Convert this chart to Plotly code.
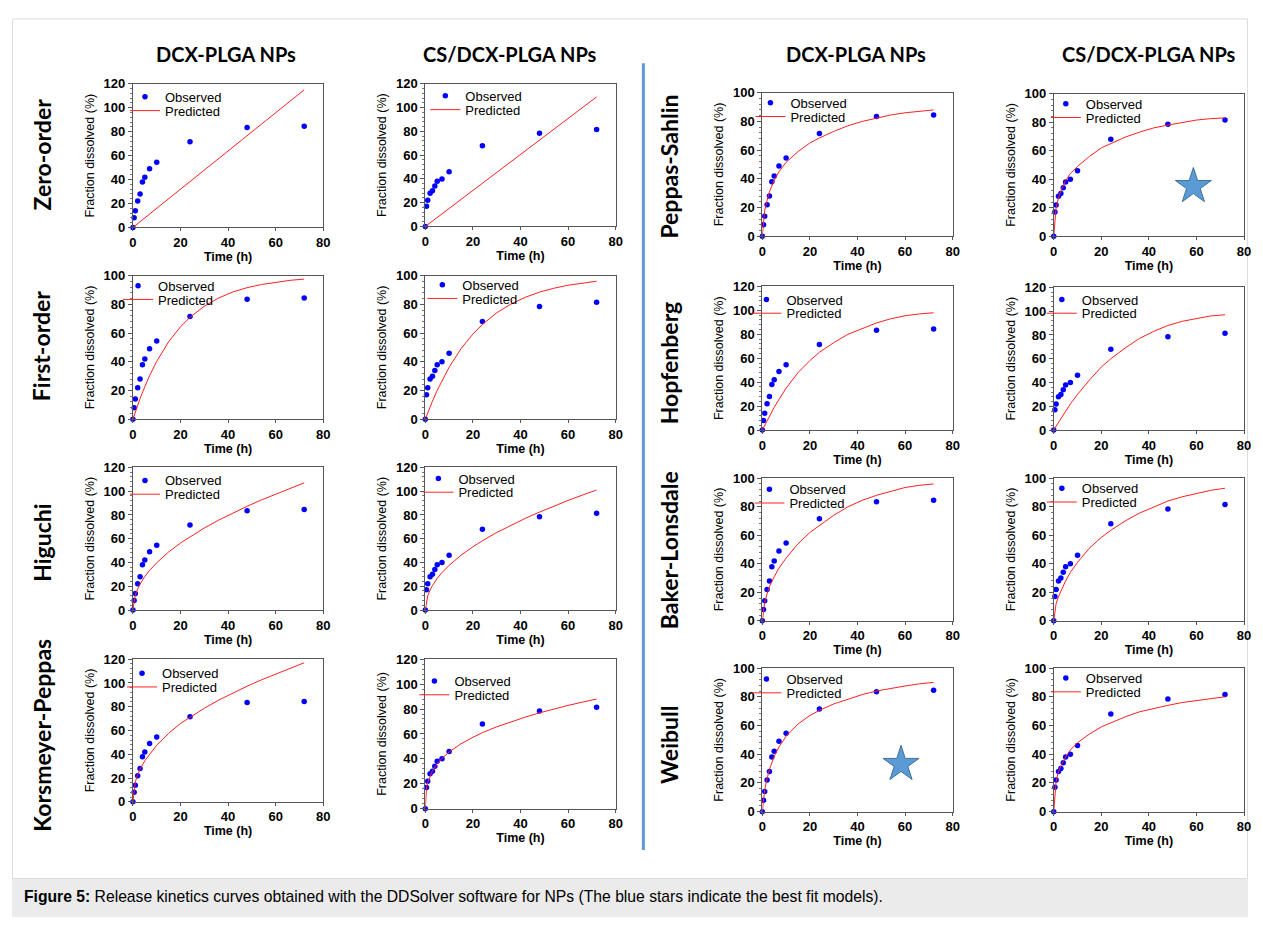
import plotly.graph_objects as go

# ---------------- data ----------------
t_obs = [0, 0.5, 1, 2, 3, 4, 5, 7, 10, 24, 48, 72]
obs_dcx = [0, 8, 14, 22, 28, 38, 42, 49, 54.5, 71.5, 83.5, 84.5]
obs_cs = [0, 17, 22, 28, 30, 34, 38, 40, 46, 68, 78.5, 81.5]

t_lin = [0, 24, 48, 72]
zero_dcx = [0, 38.3, 76.7, 115]
zero_cs = [0, 36.3, 72.7, 109]

t_fit = [0, 0.5, 1, 2, 3, 5, 7, 10, 15, 20, 24, 30, 36, 42, 48, 54, 60, 66, 72]
first_dcx = [0, 2.5, 5, 9.8, 14.4, 22.7, 30.3, 40.3, 53.9, 64.4, 71, 78.7, 84.4, 88.6, 91.6, 93.8, 95.5, 96.7, 97.6]
first_cs = [0, 2.2, 4.4, 8.6, 12.6, 20.1, 27, 36.2, 49.1, 59.3, 66, 74.1, 80.2, 84.9, 88.5, 91.2, 93.3, 94.9, 96.1]
higuchi_dcx = [0, 8.9, 12.6, 17.8, 21.8, 28.2, 33.3, 39.8, 48.8, 56.4, 61.7, 69, 75.6, 81.7, 87.3, 92.6, 97.6, 102.4, 107]
higuchi_cs = [0, 8.4, 11.9, 16.8, 20.6, 26.6, 31.5, 37.6, 46.1, 53.2, 58.3, 65.2, 71.4, 77.1, 82.4, 87.4, 92.2, 96.7, 101]
kp_dcx = [0, 12.2, 16.7, 22.9, 27.5, 34.6, 40.1, 47.6, 57.6, 65.9, 71, 78.7, 85.5, 91.7, 97.3, 102.6, 107.6, 112.3, 117]
kp_cs = [0, 16.8, 21.1, 26.6, 30.4, 36.1, 40.3, 45.5, 52.1, 57.3, 61, 65.7, 69.8, 73.5, 76.9, 80, 82.9, 85.5, 88]
ps_dcx = [0, 12, 18, 25, 31, 39, 45, 51.5, 59, 65, 68.5, 73, 77, 80, 82.5, 84.5, 86, 87, 88]
ps_cs = [0, 14, 20, 27, 32, 39, 44, 49, 56, 62, 65, 69.5, 73, 76, 78, 80, 81.5, 82.5, 83]
hop_dcx = [0, 2, 4, 8, 11.5, 19, 25.5, 35, 48, 58, 65, 73, 80, 85, 89.5, 93, 95.5, 97, 98]
hop_cs = [0, 1.6, 3.2, 6.5, 9.5, 16, 22, 30, 42, 53, 60, 69, 77, 83, 88, 91.5, 94, 96, 97]
bl_dcx = [0, 9, 13, 19, 24, 31, 37, 44, 54, 62, 67, 74, 80, 84.5, 88, 91, 93.5, 95, 96]
bl_cs = [0, 8.5, 12, 17, 21, 28, 34, 41, 51, 58.5, 63.5, 70, 75.5, 80, 84, 87, 89.5, 91.5, 93]
wb_dcx = [0, 9, 15, 23, 29.5, 38.5, 45, 52.5, 61, 67, 70.5, 75, 78.5, 81.5, 84, 86, 87.5, 89, 90]
wb_cs = [0, 15, 21, 28, 32, 38, 43, 48, 54, 59, 62, 66, 69.5, 72, 74, 76, 77.5, 79, 80]

col_titles = ["DCX-PLGA NPs", "CS/DCX-PLGA NPs", "DCX-PLGA NPs", "CS/DCX-PLGA NPs"]
left_models = ["Zero-order", "First-order", "Higuchi", "Korsmeyer-Peppas"]
right_models = ["Peppas-Sahlin", "Hopfenberg", "Baker-Lonsdale", "Weibull"]
caption_bold = "Figure 5:"
caption_text = " Release kinetics curves obtained with the DDSolver software for NPs (The blue stars indicate the best fit models)."

# best-fit star markers (panel index, x, y)
star_panels = [9, 14]
star_x = [58.7, 58.3]
star_y = [35, 33]

# ---------------- layout helpers ----------------
# page is 1263x925; browser body keeps its default 8px margin
OFF = 8
W, H = 1263 - 2 * OFF, 925 - 2 * OFF
def px(x):
    return (x - OFF) / W
def py(y):
    return 1 - (y - OFF) / H
def xd(a, b):
    return [px(a), px(b)]
def yd(top, bot):
    return [py(bot), py(top)]

# panels: (fit_t, fit_y, obs_y, ymax, x0, x1, ytop, ybot, legend text pos)
panels = [
    (t_lin, zero_dcx, obs_dcx, 120, 130, 322, 78, 224, (163, 91)),
    (t_lin, zero_cs, obs_cs, 120, 425, 617, 78, 223, (466, 90)),
    (t_fit, first_dcx, obs_dcx, 100, 130, 322, 273, 419, (156, 283)),
    (t_fit, first_cs, obs_cs, 100, 425, 617, 273, 419, (463, 282)),
    (t_fit, higuchi_dcx, obs_dcx, 120, 130, 322, 468, 613, (163, 481)),
    (t_fit, higuchi_cs, obs_cs, 120, 425, 617, 468, 613, (459, 479)),
    (t_fit, kp_dcx, obs_dcx, 120, 130, 322, 663, 808, (160, 677)),
    (t_fit, kp_cs, obs_cs, 120, 425, 617, 663, 815, (455, 685)),
    (t_fit, ps_dcx, obs_dcx, 100, 765, 957, 87, 233, (794, 97)),
    (t_fit, ps_cs, obs_cs, 100, 1059, 1251, 88, 233, (1092, 98)),
    (t_fit, hop_dcx, obs_dcx, 120, 765, 957, 284, 430, (790, 297)),
    (t_fit, hop_cs, obs_cs, 120, 1059, 1251, 285, 430, (1088, 297)),
    (t_fit, bl_dcx, obs_dcx, 100, 765, 957, 479, 624, (793, 490)),
    (t_fit, bl_cs, obs_cs, 100, 1059, 1251, 479, 624, (1088, 489)),
    (t_fit, wb_dcx, obs_dcx, 100, 765, 957, 672, 818, (790, 683)),
    (t_fit, wb_cs, obs_cs, 100, 1059, 1251, 672, 818, (1092, 682)),
]

fig = go.Figure()
layout = dict(
    width=W, height=H, margin=dict(l=0, r=0, t=0, b=0),
    paper_bgcolor="white", plot_bgcolor="white", showlegend=True,
)

FONT = "Liberation Sans, Arial, sans-serif"
tickfont = dict(family=FONT, size=13, color="black", weight="bold")

for i, (tf, yf, yo, ymax, x0, x1, yt, yb, (lx, ly)) in enumerate(panels):
    n = i + 1
    xa = "x" if n == 1 else f"x{n}"
    ya = "y" if n == 1 else f"y{n}"
    lg_o = f"legend{2 * n - 1}" if n > 1 else "legend"
    lg_p = f"legend{2 * n}"
    fig.add_trace(go.Scatter(
        x=t_obs, y=yo, mode="markers", name="Observed",
        marker=dict(color="#0000ff", size=5.5), xaxis=xa, yaxis=ya,
        legend=lg_o, cliponaxis=False))
    fig.add_trace(go.Scatter(
        x=tf, y=yf, mode="lines", name="Predicted",
        line=dict(color="#ff2020", width=1), xaxis=xa, yaxis=ya,
        legend=lg_p, cliponaxis=False))
    xkey = "xaxis" if n == 1 else f"xaxis{n}"
    ykey = "yaxis" if n == 1 else f"yaxis{n}"
    layout[xkey] = dict(
        domain=xd(x0, x1), anchor=ya, range=[0, 80], dtick=20,
        showgrid=False, zeroline=False, showline=True, linecolor="#555555",
        linewidth=1, mirror=True, ticks="outside", ticklen=3, tickcolor="#555555",
        tickfont=tickfont,
        title=dict(text="Time (h)", font=dict(family=FONT, size=12.5, color="black", weight="bold"), standoff=2),
    )
    layout[ykey] = dict(
        domain=yd(yt, yb), anchor=xa, range=[0, ymax], dtick=20,
        showgrid=False, zeroline=False, showline=True, linecolor="#555555",
        linewidth=1, mirror=True, ticks="outside", ticklen=4, tickcolor="#555555",
        minor=dict(dtick=4, ticks="outside", ticklen=2, tickcolor="#777777"),
        tickfont=tickfont,
        title=dict(text="Fraction dissolved (%)", font=dict(family=FONT, size=12.5, color="black"), standoff=6),
    )
    legfont = dict(family=FONT, size=13, color="black")
    layout[lg_o] = dict(x=px(lx - 41), y=py(ly - 15), xanchor="left", yanchor="top",
                        bgcolor="rgba(0,0,0,0)", borderwidth=0, font=legfont,
                        itemwidth=30)
    layout[lg_p] = dict(x=px(lx - 41), y=py(ly - 1), xanchor="left", yanchor="top",
                        bgcolor="rgba(0,0,0,0)", borderwidth=0, font=legfont,
                        itemwidth=30)

# stars
for k, p in enumerate(star_panels):
    n = p + 1
    fig.add_trace(go.Scatter(
        x=[star_x[k]], y=[star_y[k]], mode="markers", showlegend=False,
        marker=dict(symbol="star", size=27, color="#5b9bd5",
                    line=dict(color="#41719c", width=1)),
        xaxis=f"x{n}", yaxis=f"y{n}", cliponaxis=False))

annotations = []
title_x = [224, 510, 860, 1155]
for t, x in zip(col_titles, title_x):
    annotations.append(dict(text=t, x=px(x), y=py(48), xref="paper", yref="paper",
                            showarrow=False, xanchor="center", yanchor="middle",
                            font=dict(family="Lato, Open Sans, sans-serif", size=20, color="black", weight="bold")))
left_y = [150, 345, 545, 740]
right_y = [162, 362, 552, 750]
for t, y in zip(left_models, left_y):
    annotations.append(dict(text=t, x=px(38), y=py(y), xref="paper", yref="paper",
                            showarrow=False, textangle=-90, xanchor="center", yanchor="middle",
                            font=dict(family="Lato, Open Sans, sans-serif", size=23, color="black", weight="bold")))
for t, y in zip(right_models, right_y):
    annotations.append(dict(text=t, x=px(671), y=py(y), xref="paper", yref="paper",
                            showarrow=False, textangle=-90, xanchor="center", yanchor="middle",
                            font=dict(family="Lato, Open Sans, sans-serif", size=23, color="black", weight="bold")))
annotations.append(dict(text="<b>" + caption_bold + "</b>" + caption_text, x=px(18), y=py(904),
                        xref="paper", yref="paper", showarrow=False, xanchor="left", yanchor="middle",
                        font=dict(family=FONT, size=15.7, color="black")))

shapes = [
    dict(type="rect", xref="paper", yref="paper", x0=0, x1=1, y0=py(930), y1=py(886),
         fillcolor="#ebebeb", line=dict(width=0), layer="below"),
    dict(type="rect", xref="paper", yref="paper", x0=px(8.5), x1=px(1254.5), y0=py(886), y1=py(12),
         fillcolor="rgba(0,0,0,0)", line=dict(color="#dddddd", width=1), layer="below"),
    dict(type="line", xref="paper", yref="paper", x0=px(645), x1=px(645), y0=py(57), y1=py(857),
         line=dict(color="#5b9bd5", width=3)),
]

layout["annotations"] = annotations
layout["shapes"] = shapes
fig.update_layout(**layout)

fig.write_html("out.html", config={"displayModeBar": False})
